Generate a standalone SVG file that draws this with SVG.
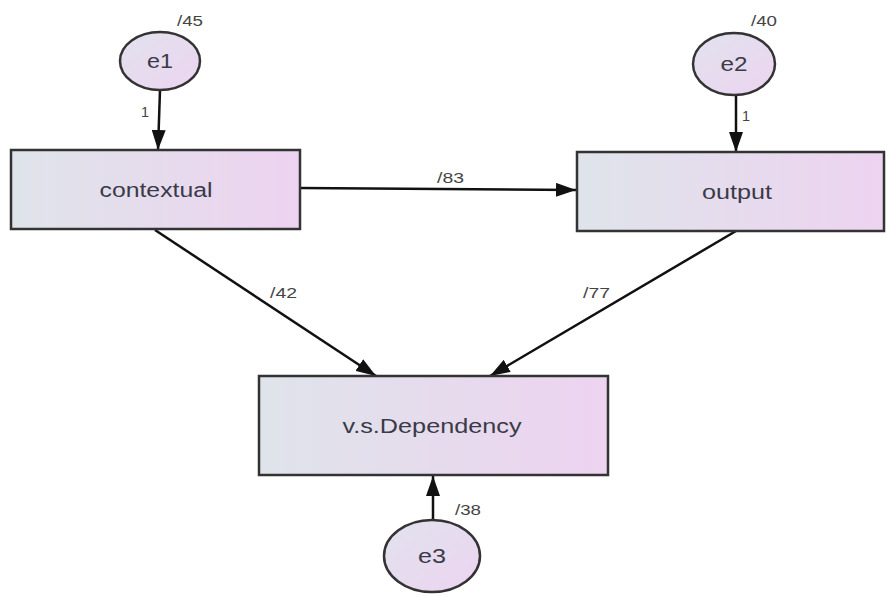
<svg xmlns="http://www.w3.org/2000/svg" width="887" height="595" viewBox="0 0 887 595">
<defs>
<linearGradient id="g" x1="0" y1="0" x2="1" y2="0">
<stop offset="0" stop-color="#dfe4ea"/>
<stop offset="1" stop-color="#edd3f0"/>
</linearGradient>
<linearGradient id="ge" x1="0" y1="0" x2="1" y2="1">
<stop offset="0" stop-color="#e2e2ee"/>
<stop offset="1" stop-color="#ecd4f0"/>
</linearGradient>
<marker id="a" viewBox="0 0 20 14" refX="20" refY="7" markerWidth="20" markerHeight="14" markerUnits="userSpaceOnUse" orient="auto">
<path d="M0,0 L20,7 L0,14 z" fill="#111"/>
</marker>
</defs>
<style>
.box{fill:url(#g);stroke:#333;stroke-width:2.5}
.ell{fill:url(#ge);stroke:#333;stroke-width:2.5}
.lbl{font-family:"Liberation Sans",Arial,sans-serif;font-size:20px;fill:#3a3a48;text-anchor:middle}
.num{font-family:"Liberation Sans",Arial,sans-serif;font-size:14px;fill:#444}
.c{stroke:#111;stroke-width:2.5;fill:none;marker-end:url(#a)}
</style>
<rect width="887" height="595" fill="#fff"/>
<g id="connectors">
<line class="c" x1="160" y1="90" x2="158" y2="150"/>
<line class="c" x1="736" y1="95" x2="736" y2="152"/>
<line class="c" x1="433" y1="520" x2="433" y2="476"/>
<line class="c" x1="300" y1="188" x2="576" y2="190"/>
<line class="c" x1="155" y1="230" x2="376" y2="376"/>
<line class="c" x1="736" y1="231" x2="490" y2="376"/>
<text class="num" x="141" y="117" textLength="8" lengthAdjust="spacingAndGlyphs">1</text>
<text class="num" x="742" y="121" textLength="8" lengthAdjust="spacingAndGlyphs">1</text>
<text class="num" x="440" y="463" textLength="8" lengthAdjust="spacingAndGlyphs">1</text>
<text class="num" x="177" y="26" textLength="26" lengthAdjust="spacingAndGlyphs">/45</text>
<text class="num" x="751" y="26" textLength="26" lengthAdjust="spacingAndGlyphs">/40</text>
<text class="num" x="455" y="515" textLength="26" lengthAdjust="spacingAndGlyphs">/38</text>
<text class="num" x="437" y="183" textLength="27" lengthAdjust="spacingAndGlyphs">/83</text>
<text class="num" x="270" y="298" textLength="27" lengthAdjust="spacingAndGlyphs">/42</text>
<text class="num" x="583" y="298" textLength="27" lengthAdjust="spacingAndGlyphs">/77</text>
</g>
<g id="e1"><ellipse class="ell" cx="160" cy="61" rx="40" ry="29"/><text class="lbl" x="160" y="68" textLength="26" lengthAdjust="spacingAndGlyphs">e1</text></g>
<g id="e2"><ellipse class="ell" cx="734" cy="64" rx="41" ry="31"/><text class="lbl" x="734" y="71" textLength="27" lengthAdjust="spacingAndGlyphs">e2</text></g>
<g id="e3"><ellipse class="ell" cx="432" cy="556" rx="48" ry="36"/><text class="lbl" x="432" y="563" textLength="28" lengthAdjust="spacingAndGlyphs">e3</text></g>
<g id="contextual"><rect class="box" x="11" y="150" width="289" height="79"/><text class="lbl" x="156" y="197" textLength="113" lengthAdjust="spacingAndGlyphs">contextual</text></g>
<g id="output"><rect class="box" x="577" y="152" width="307" height="79"/><text class="lbl" x="737" y="199" textLength="70" lengthAdjust="spacingAndGlyphs">output</text></g>
<g id="dependency"><rect class="box" x="259" y="376" width="349" height="99"/><text class="lbl" x="432" y="433" textLength="179" lengthAdjust="spacingAndGlyphs">v.s.Dependency</text></g>
</svg>
